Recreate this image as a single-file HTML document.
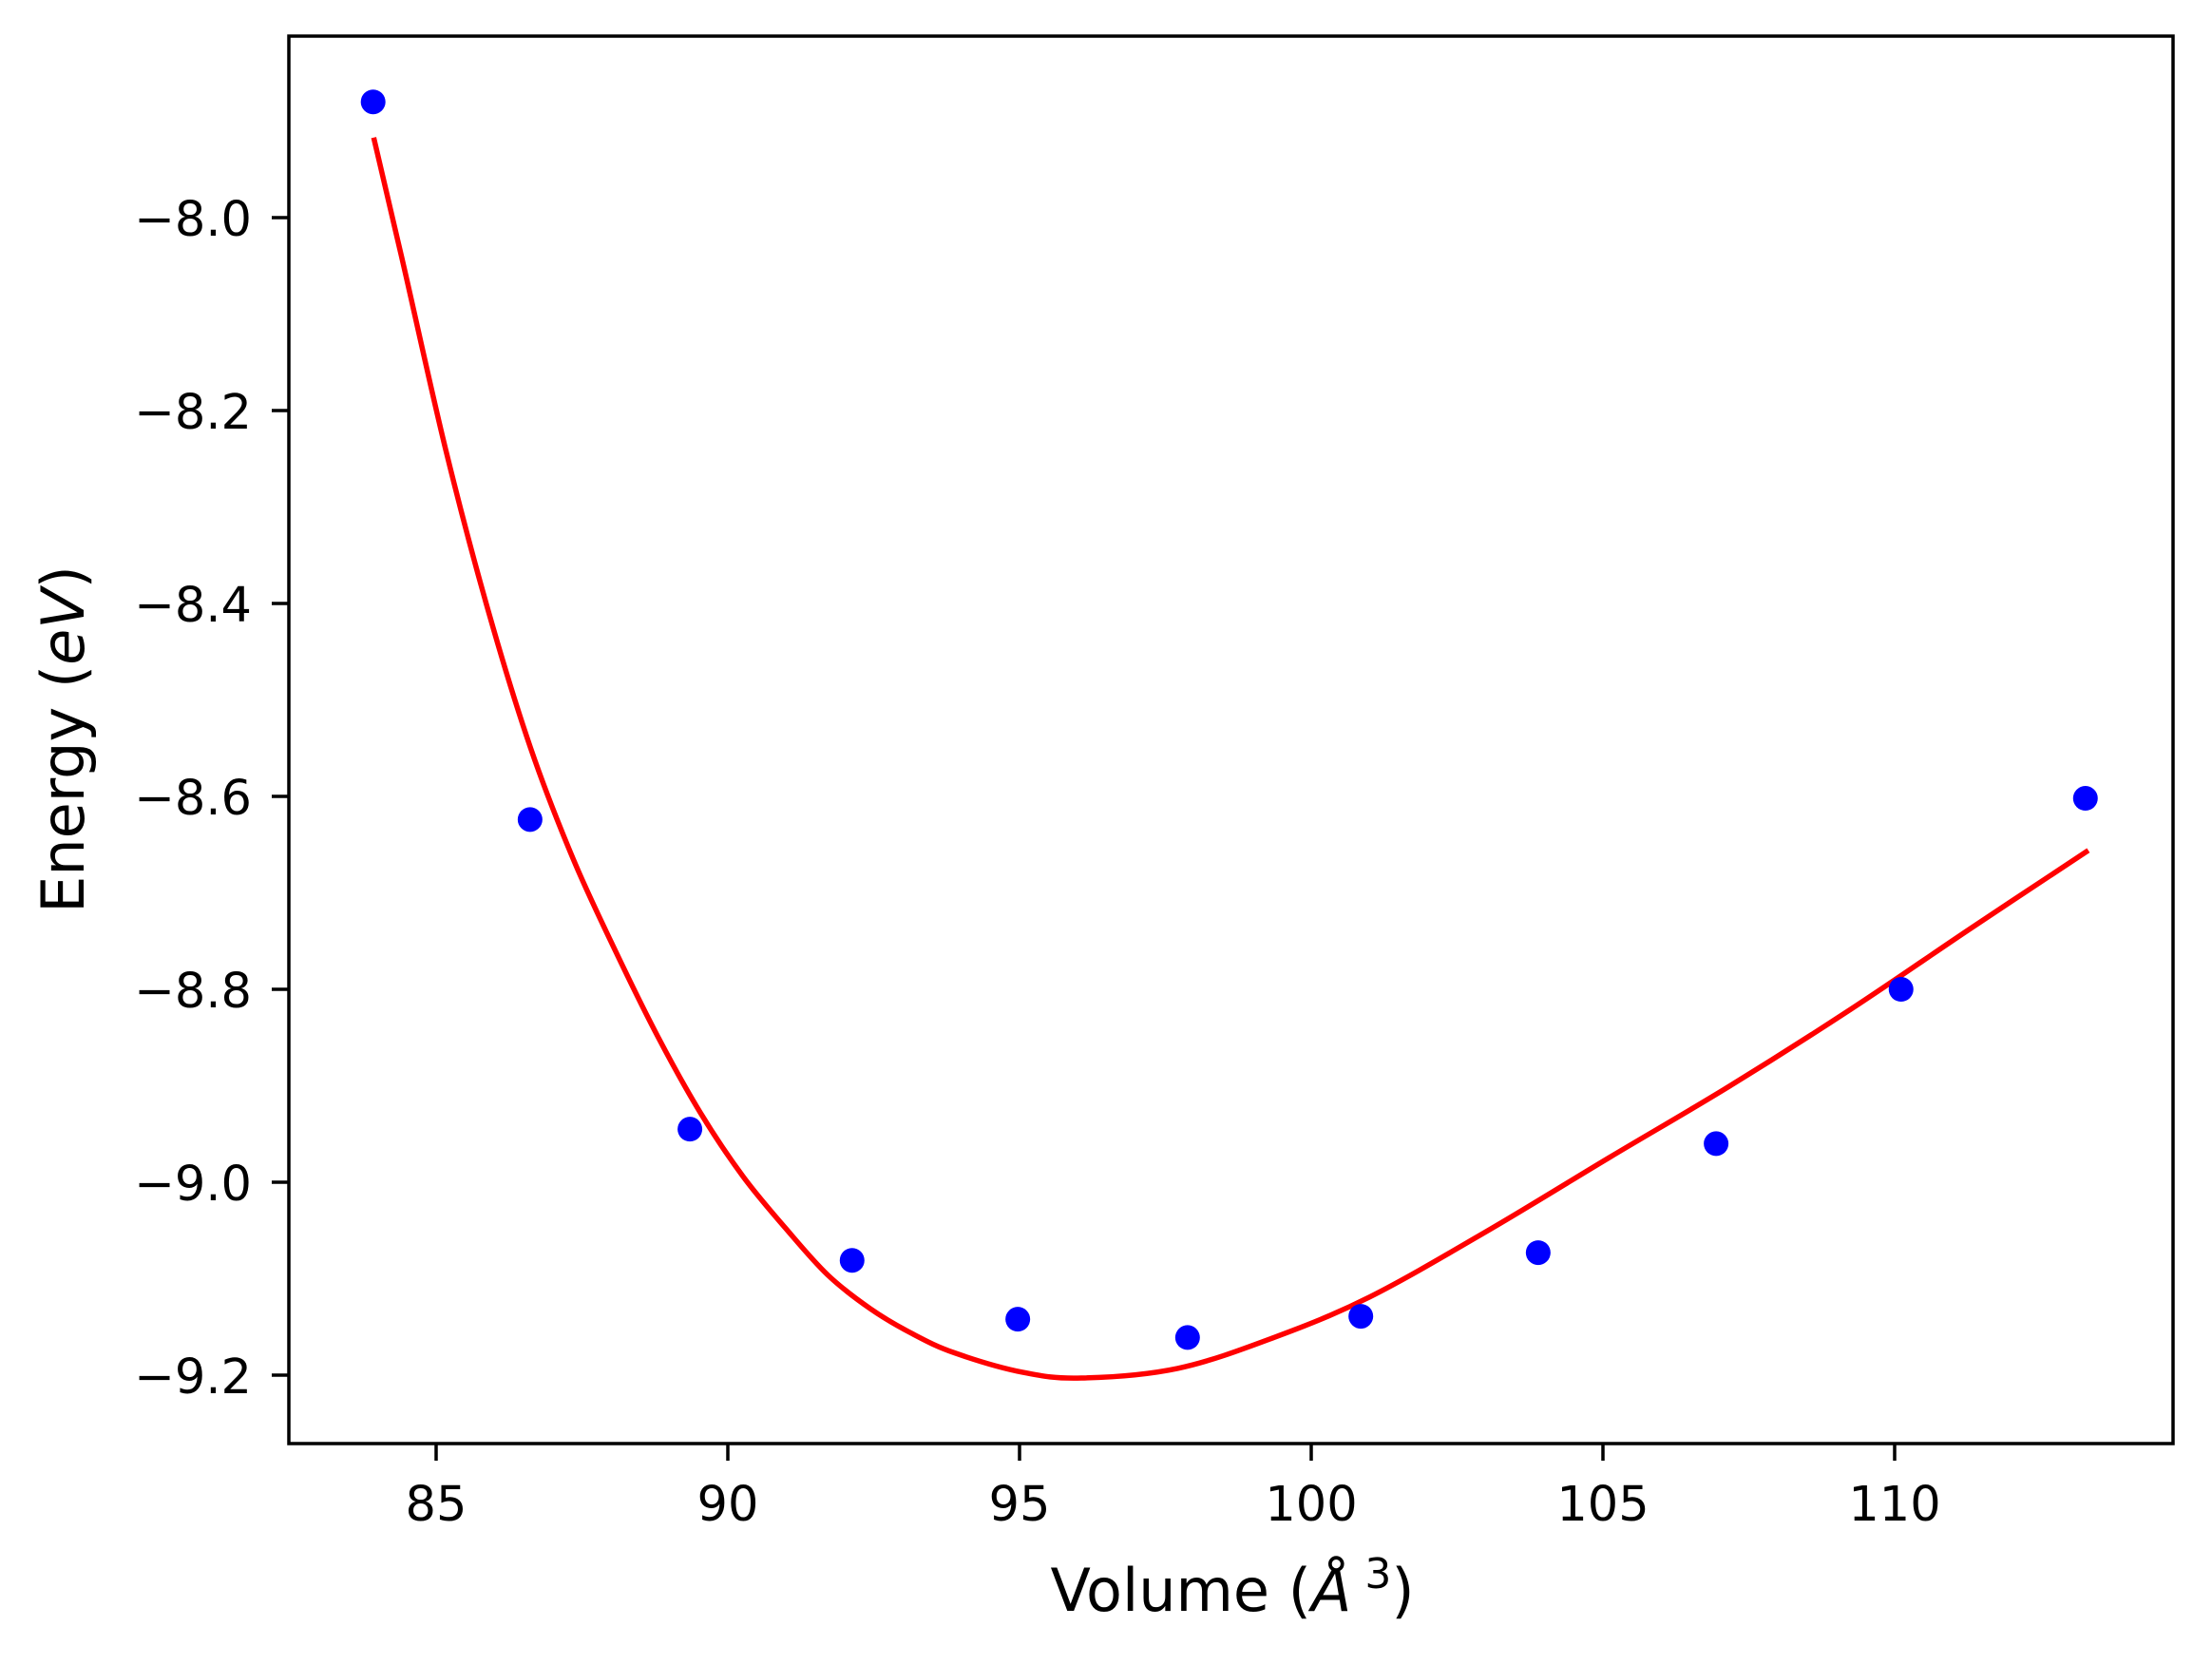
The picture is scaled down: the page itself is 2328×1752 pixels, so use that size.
<!DOCTYPE html>
<html><head><meta charset="utf-8"><style>
html,body{margin:0;padding:0;background:#fff;}
svg text{font-family:"DejaVu Sans","Liberation Sans",sans-serif;}
</style></head><body>
<svg id="chart" width="2328" height="1747" viewBox="0 0 2328 1747" xmlns="http://www.w3.org/2000/svg">
<rect width="2328" height="1747" fill="#fff"/>
<g id="plot"></g>
<g id="axes"></g>
</svg>
<script>
const pointVolumes = [83.92, 86.61, 89.35, 92.13, 94.97, 97.88, 100.85, 103.89, 106.94, 110.11, 113.27];
const pointEnergies = [-7.880, -8.624, -8.945, -9.081, -9.142, -9.161, -9.139, -9.073, -8.960, -8.800, -8.602];
const fitVolumes = [83.93, 84.44, 85.17, 85.90, 86.62, 87.35, 88.08, 88.80, 89.53, 90.26, 90.98, 91.71, 92.44, 93.16, 93.89, 95.05, 96.06, 97.71, 99.36, 101.0, 103.06, 105.12, 107.18, 109.24, 111.3, 113.32];
const fitEnergies = [-7.917, -8.049, -8.242, -8.409, -8.550, -8.665, -8.761, -8.849, -8.928, -8.994, -9.047, -9.096, -9.131, -9.157, -9.177, -9.197, -9.203, -9.193, -9.161, -9.119, -9.049, -8.974, -8.900, -8.821, -8.737, -8.656];
const xTicks = [85, 90, 95, 100, 105, 110];
const yTicks = [-8.0, -8.2, -8.4, -8.6, -8.8, -9.0, -9.2];
const yTickLabels = ["\u22128.0", "\u22128.2", "\u22128.4", "\u22128.6", "\u22128.8", "\u22129.0", "\u22129.2"];

const L = 304, R = 2287, T = 38, B = 1519;
function xs(v){ return 459 + (v - 85) * 61.4; }
function ys(v){ return 229 + (-8.0 - v) * 1015; }
const NS = "http://www.w3.org/2000/svg";
function mk(tag, attrs, parent){
  const e = document.createElementNS(NS, tag);
  for (const k in attrs) e.setAttribute(k, attrs[k]);
  parent.appendChild(e);
  return e;
}
const plot = document.getElementById('plot');
const axes = document.getElementById('axes');

const pts = fitVolumes.map((v, i) => [xs(v), ys(fitEnergies[i])]);
let d = "M" + pts[0][0] + "," + pts[0][1];
for (let i = 0; i < pts.length - 1; i++) {
  const p0 = pts[i - 1] || pts[i], p1 = pts[i], p2 = pts[i + 1], p3 = pts[i + 2] || p2;
  const c1x = p1[0] + (p2[0] - p0[0]) / 6, c1y = p1[1] + (p2[1] - p0[1]) / 6;
  const c2x = p2[0] - (p3[0] - p1[0]) / 6, c2y = p2[1] - (p3[1] - p1[1]) / 6;
  d += " C" + c1x + "," + c1y + " " + c2x + "," + c2y + " " + p2[0] + "," + p2[1];
}
const curve = mk('path', {d: d, fill: 'none', stroke: '#ff0000', 'stroke-width': 5.5}, plot);



pointVolumes.forEach((v, i) => {
  const c = mk('circle', {cx: xs(v), cy: ys(pointEnergies[i]), r: 13, fill: '#0000ff'}, plot);
  
  
});

const frame = mk('rect', {x: L, y: T, width: R - L, height: B - T, fill: 'none', stroke: '#000', 'stroke-width': 3.5}, axes);



xTicks.forEach(v => {
  const x = xs(v);
  const t = mk('line', {x1: x, x2: x, y1: B, y2: B + 18, stroke: '#000', 'stroke-width': 3.5}, axes);
  
  
  const lb = mk('text', {x: x, y: 1600, 'font-size': 51, 'text-anchor': 'middle', fill: '#000'}, axes);
  lb.textContent = String(v);
  
  
});
yTicks.forEach((v, i) => {
  const y = ys(v);
  const t = mk('line', {x1: L - 18, x2: L, y1: y, y2: y, stroke: '#000', 'stroke-width': 3.5}, axes);
  
  
  const lb = mk('text', {x: 265, y: y + 19, 'font-size': 51, 'text-anchor': 'end', fill: '#000'}, axes);
  lb.textContent = yTickLabels[i];
  
  
});
</script>
<svg style="position:absolute;left:0;top:0" width="2328" height="1747">
<text x="1297" y="1695" font-size="62" text-anchor="middle" font-family="DejaVu Sans, Liberation Sans, sans-serif">Volume (<tspan font-style="italic">Å</tspan><tspan font-size="44" dy="-24"> 3</tspan><tspan dy="24">)</tspan></text>
<text transform="translate(88,778) rotate(-90)" font-size="62" text-anchor="middle" font-family="DejaVu Sans, Liberation Sans, sans-serif">Energy (<tspan font-style="italic">eV</tspan>)</text>
</svg>
</body></html>
